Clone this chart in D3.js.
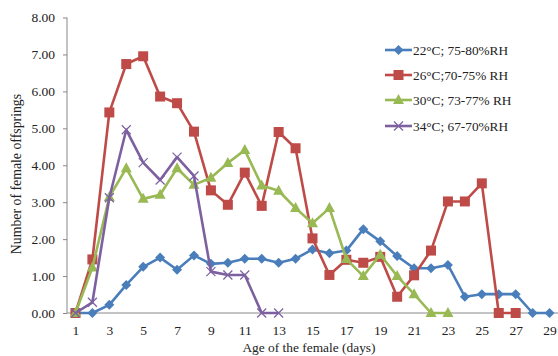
<!DOCTYPE html>
<html><head><meta charset="utf-8">
<script src="https://cdn.jsdelivr.net/npm/d3@7"></script>
<style>body{margin:0;background:#fff}svg{display:block}text{font-family:"Liberation Serif","Times New Roman",serif;fill:#222}</style>
</head><body><svg id="c" width="558" height="356"></svg>
<script>
const days = d3.range(1, 30);
const xTickLabels = [1,3,5,7,9,11,13,15,17,19,21,23,25,27,29];
const yTicks = [0,1,2,3,4,5,6,7,8];
const seriesNames = ["22°C; 75-80%RH","26°C;70-75% RH","30°C; 73-77% RH","34°C; 67-70%RH"];
const s22 = [0,0,0.22,0.76,1.25,1.5,1.17,1.56,1.33,1.36,1.47,1.47,1.36,1.47,1.72,1.62,1.69,2.27,1.94,1.54,1.21,1.21,1.3,0.44,0.51,0.51,0.51,0,0];
const s26 = [0,1.45,5.43,6.74,6.95,5.86,5.68,4.91,3.32,2.93,3.8,2.9,4.9,4.46,2.02,1.03,1.44,1.36,1.52,0.44,1.02,1.69,3.02,3.02,3.51,0,0];
const s30 = [0,1.23,3.14,3.92,3.09,3.2,3.92,3.47,3.66,4.06,4.41,3.45,3.31,2.84,2.43,2.84,1.46,1.0,1.58,1.0,0.51,0,0];
const s34 = [0,0.29,3.12,4.96,4.07,3.6,4.22,3.71,1.12,1.03,1.03,0,0];
const colors = ["#4A7EBB","#BE4B48","#98B954","#7D60A0"];
const shapes = ["diamond","square","triangle","x"];

const svg = d3.select("#c");
const x = d3.scaleLinear().domain([0.5, 29.5]).range([67, 558]);
const y = d3.scaleLinear().domain([0, 8]).range([313, 17.5]);

const yAx = svg.append("g").attr("transform","translate(67,0)")
  .call(d3.axisLeft(y).tickValues(yTicks).tickFormat(d3.format(".2f")).tickSize(4).tickPadding(8));
yAx.select(".domain").attr("stroke","#888").attr("d","M0,17.5V313");
yAx.selectAll(".tick line").attr("stroke","#888");
yAx.selectAll("text").style("font-size","13.5px").attr("fill","#222");

const xAx = svg.append("g").attr("transform","translate(0,313)")
  .call(d3.axisBottom(x).tickValues(xTickLabels).tickFormat(d3.format("d")).tickSize(0).tickPadding(12));
xAx.select(".domain").attr("stroke","#888").attr("d","M67,0H558");
xAx.selectAll("text").style("font-size","13.5px").attr("fill","#222");

svg.append("text").attr("x",309).attr("y",352).attr("text-anchor","middle").style("font-size","13.4px").text("Age of the female (days)");
svg.append("text").attr("transform","translate(21,174) rotate(-90)").attr("text-anchor","middle").style("font-size","13.8px").text("Number of female offsprings");

const data = [s22, s26, s30, s34];
const line = d3.line().x((d,i)=>x(days[i])).y(d=>y(d));

function marker(g, shape, color, cx, cy){
  if(shape==="diamond"){
    g.append("path").attr("d",`M${cx},${cy-5}L${cx+5},${cy}L${cx},${cy+5}L${cx-5},${cy}Z`).attr("fill",color);
  } else if(shape==="square"){
    g.append("rect").attr("x",cx-5).attr("y",cy-5).attr("width",10).attr("height",10).attr("fill",color);
  } else if(shape==="triangle"){
    g.append("path").attr("d",`M${cx},${cy-6}L${cx+5.5},${cy+4}L${cx-5.5},${cy+4}Z`).attr("fill",color);
  } else {
    g.append("path").attr("d",`M${cx-4.5},${cy-4.5}L${cx+4.5},${cy+4.5}M${cx-4.5},${cy+4.5}L${cx+4.5},${cy-4.5}`).attr("stroke",color).attr("stroke-width",1.2);
  }
}

data.forEach((s,k)=>{
  const g = svg.append("g");
  g.append("path").datum(s).attr("d",line).attr("fill","none").attr("stroke",colors[k]).attr("stroke-width",2.6).attr("stroke-linejoin","round");
  s.forEach((v,i)=>marker(g, shapes[k], colors[k], x(days[i]), y(v)));
});

const lg = svg.append("g");
const ly = [50, 75, 100, 126];
seriesNames.forEach((n,k)=>{
  lg.append("line").attr("x1",385).attr("x2",412).attr("y1",ly[k]).attr("y2",ly[k]).attr("stroke",colors[k]).attr("stroke-width",2.6);
  marker(lg, shapes[k], colors[k], 398.5, ly[k]);
  lg.append("text").attr("x",413).attr("y",ly[k]+4.5).style("font-size","13.3px").text(n);
});
</script></body></html>
